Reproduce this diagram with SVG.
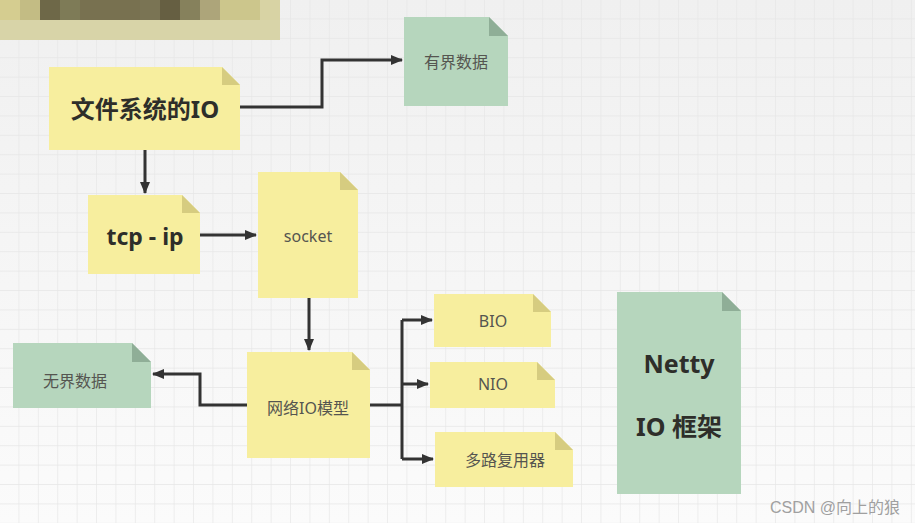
<svg xmlns="http://www.w3.org/2000/svg" width="915" height="523" viewBox="0 0 915 523">
<style>
.y{fill:#f7ee9e}
.yf{fill:#d6cc80}
.g{fill:#b6d6bd}
.gf{fill:#8fae97}
.big{font-family:"Noto Sans","Noto Sans CJK SC",sans-serif;font-weight:bold;fill:#2e2e2a;text-anchor:middle}
.sm{font-family:"Noto Sans","Noto Sans CJK SC",sans-serif;font-size:16px;fill:#555550;text-anchor:middle}
.ln{fill:none;stroke:#333;stroke-width:3}
</style>
<defs>
<pattern id="grid" width="19.4" height="19.4" patternUnits="userSpaceOnUse">
<path d="M19.4 0V19.4M0 19.4H19.4" fill="none" stroke="#e6e6e6" stroke-width="1.3"/>
</pattern>
<linearGradient id="bg" x1="0" y1="0" x2="0" y2="1">
<stop offset="0" stop-color="#f0f0f0"/>
<stop offset="1" stop-color="#fbfbfb"/>
</linearGradient>
<marker id="ar" markerWidth="12" markerHeight="10" refX="11" refY="5" orient="auto" markerUnits="userSpaceOnUse">
<path d="M0 0L12 5L0 10Z" fill="#333"/>
</marker>
</defs>
<rect width="915" height="523" fill="url(#bg)"/>
<rect width="915" height="523" fill="url(#grid)"/>
<g id="blur">
<rect x="0" y="20" width="280" height="20" fill="#d8d4a8"/>
<rect x="0" y="0" width="20" height="20" fill="#d5cd90"/>
<rect x="20" y="0" width="20" height="20" fill="#c3bc84"/>
<rect x="40" y="0" width="20" height="20" fill="#6e6848"/>
<rect x="60" y="0" width="20" height="20" fill="#7e7b57"/>
<rect x="80" y="0" width="60" height="20" fill="#787150"/>
<rect x="140" y="0" width="20" height="20" fill="#7a7454"/>
<rect x="160" y="0" width="20" height="20" fill="#665f42"/>
<rect x="180" y="0" width="20" height="20" fill="#86815c"/>
<rect x="200" y="0" width="20" height="20" fill="#ada57a"/>
<rect x="220" y="0" width="40" height="20" fill="#ccc68c"/>
<rect x="260" y="0" width="20" height="20" fill="#d8d3a4"/>
</g>
<g id="connectors">
<path class="ln" d="M240 107H322V60H402" marker-end="url(#ar)"/>
<path class="ln" d="M145 150V193" marker-end="url(#ar)"/>
<path class="ln" d="M200 235H256" marker-end="url(#ar)"/>
<path class="ln" d="M309 298V350" marker-end="url(#ar)"/>
<path class="ln" d="M247 405H200V374H153" marker-end="url(#ar)"/>
<path class="ln" d="M370 405H402"/>
<path class="ln" d="M402 320V459"/>
<path class="ln" d="M402 320H432" marker-end="url(#ar)"/>
<path class="ln" d="M402 384H428" marker-end="url(#ar)"/>
<path class="ln" d="M402 459H433" marker-end="url(#ar)"/>
</g>
<g id="n-file">
<path class="y" d="M49 67H222L240 85V150H49Z"/>
<path class="yf" d="M222 67L240 85H222Z"/>
<text class="big" x="145" y="118" font-size="24">文件系统的IO</text>
</g>
<g id="n-bounded">
<path class="g" d="M404 17H489L508 36V106H404Z"/>
<path class="gf" d="M489 17L508 36H489Z"/>
<text class="sm" x="456" y="68">有界数据</text>
</g>
<g id="n-tcp">
<path class="y" d="M88 195H182L200 213V274H88Z"/>
<path class="yf" d="M182 195L200 213H182Z"/>
<text class="big" x="145" y="245" font-size="23">tcp - ip</text>
</g>
<g id="n-socket">
<path class="y" d="M258 172H340L358 190V298H258Z"/>
<path class="yf" d="M340 172L358 190H340Z"/>
<text class="sm" x="308" y="242">socket</text>
</g>
<g id="n-net">
<path class="y" d="M247 352H352L370 370V458H247Z"/>
<path class="yf" d="M352 352L370 370H352Z"/>
<text class="sm" x="308" y="414">网络IO模型</text>
</g>
<g id="n-unbounded">
<path class="g" d="M13 343H132L151 362V408H13Z"/>
<path class="gf" d="M132 343L151 362H132Z"/>
<text class="sm" x="75" y="387">无界数据</text>
</g>
<g id="n-bio">
<path class="y" d="M434 294H533L551 312V347H434Z"/>
<path class="yf" d="M533 294L551 312H533Z"/>
<text class="sm" x="493" y="327">BIO</text>
</g>
<g id="n-nio">
<path class="y" d="M430 362H537L555 380V408H430Z"/>
<path class="yf" d="M537 362L555 380H537Z"/>
<text class="sm" x="493" y="390">NIO</text>
</g>
<g id="n-mux">
<path class="y" d="M435 432H555L573 450V487H435Z"/>
<path class="yf" d="M555 432L573 450H555Z"/>
<text class="sm" x="505" y="466">多路复用器</text>
</g>
<g id="n-netty">
<path class="g" d="M617 292H722L741 311V494H617Z"/>
<path class="gf" d="M722 292L741 311H722Z"/>
<text class="big" x="679" y="373" font-size="25">Netty</text>
<text class="big" x="679" y="436" font-size="25">IO 框架</text>
</g>
<text x="900" y="513" text-anchor="end" font-family="'Liberation Sans','Noto Sans CJK SC',sans-serif" font-size="16" fill="#a0a0a0">CSDN @向上的狼</text>
</svg>
